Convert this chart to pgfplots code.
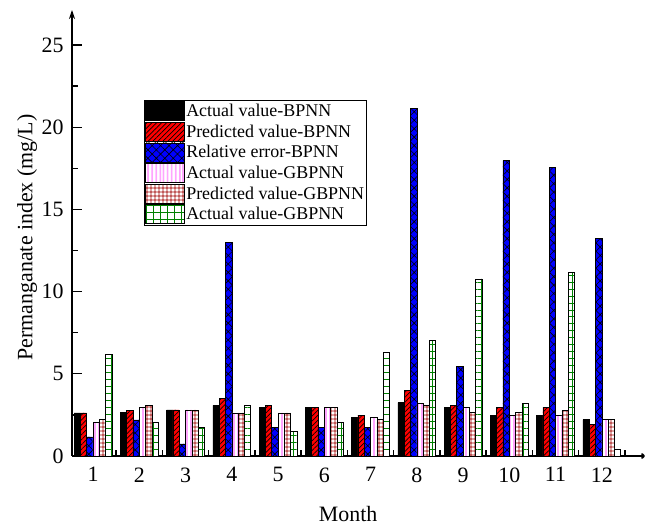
\documentclass[border=0pt]{standalone}
\usepackage{fontspec}
\setmainfont{Liberation Serif}
\usepackage{pgfplots}
\pgfplotsset{compat=1.18}
\usetikzlibrary{patterns.meta,arrows.meta}
\definecolor{cbrown}{RGB}{160,0,0}
\definecolor{cgreen}{RGB}{0,128,0}
\begin{document}
\begin{tikzpicture}
\begin{axis}[
  scale only axis,
  width=573bp, height=446bp,
  xmin=0.546, xmax=12.935,
  ymin=0, ymax=27.13,
  axis x line=bottom, axis y line=left,
  x axis line style={line width=2pt,-{To[length=4pt,width=6pt]}},
  y axis line style={line width=1.5pt,-{Stealth[length=9pt,width=6pt]}},
  ybar=0pt, bar width=6.3bp,
  xtick={1,...,12},
  minor xtick={1.5,2.5,...,12.5},
  ytick={0,5,...,25},
  minor ytick={2.5,7.5,...,22.5},
  major x tick style={draw=none},
  tick align=inside,
  major tick length=10bp, minor tick length=6bp,
  every tick/.style={black, line width=1.3pt},
  /pgf/number format/assume math mode=true,
  tick label style={font=\fontsize{22}{26}\selectfont},
  xticklabel style={yshift=-8bp},
  yticklabel style={xshift=-5bp},
  label style={font=\fontsize{22}{26}\selectfont},
  xlabel={Month},
  ylabel={Permanganate index (mg/L)},
  ylabel style={at={(rel axis cs:-0.0785,0.49)}, anchor=center},
  xlabel style={at={(rel axis cs:0.482,-0.13)}, anchor=center},
  legend style={at={(rel axis cs:0.126,0.798)}, anchor=north west,
    draw=black, line width=0.6pt, font=\fontsize{18}{20}\selectfont,
    inner sep=1pt, row sep=1bp, cells={anchor=west},
    nodes={inner sep=1.2pt}},
  legend image code/.code={\draw[#1,line width=0.6pt] (0bp,-9.5bp) rectangle (39bp,9.5bp);},
  clip=false,
]
\addplot[draw=black, fill=black, line width=0.5pt] coordinates {
(1,2.63) (2,2.65) (3,2.80) (4,3.08) (5,2.94) (6,2.94) (7,2.37) (8,3.24) (9,2.94) (10,2.49) (11,2.49) (12,2.21)};
\addplot[draw=black, fill=red, line width=0.5pt, postaction={pattern={Lines[angle=45,distance=3.5pt,line width=0.7pt]}, pattern color=black}] coordinates {
(1,2.63) (2,2.78) (3,2.80) (4,3.50) (5,3.08) (6,2.94) (7,2.49) (8,4.00) (9,3.08) (10,2.94) (11,2.94) (12,1.93)};
\addplot[draw=black, fill=blue, line width=0.5pt, postaction={pattern={Hatch[angle=45,distance=6pt,line width=0.6pt]}, pattern color=black}] coordinates {
(1,1.17) (2,2.19) (3,0.73) (4,12.99) (5,1.76) (6,1.76) (7,1.76) (8,21.13) (9,5.45) (10,17.96) (11,17.54) (12,13.24)};
\addplot[draw=black, fill=white, line width=0.5pt, postaction={pattern={Lines[angle=90,distance=4pt,line width=0.8pt]}, pattern color=magenta}] coordinates {
(1,2.03) (2,2.94) (3,2.80) (4,2.63) (5,2.63) (6,2.94) (7,2.35) (8,3.22) (9,2.94) (10,2.47) (11,2.47) (12,2.21)};
\addplot[draw=black, fill=white, line width=0.5pt, postaction={pattern={Hatch[angle=0,distance=4pt,line width=0.6pt]}, pattern color=cbrown}] coordinates {
(1,2.23) (2,3.08) (3,2.80) (4,2.63) (5,2.63) (6,2.94) (7,2.21) (8,3.08) (9,2.65) (10,2.65) (11,2.78) (12,2.21)};
\addplot[draw=black, fill=white, line width=0.5pt, postaction={pattern={Hatch[angle=0,distance=7pt,line width=0.6pt]}, pattern color=cgreen}] coordinates {
(1,6.20) (2,2.05) (3,1.76) (4,3.08) (5,1.48) (6,2.05) (7,6.31) (8,7.04) (9,10.77) (10,3.22) (11,11.17) (12,0.43)};
\legend{Actual value-BPNN, Predicted value-BPNN, Relative error-BPNN, Actual value-GBPNN, Predicted value-GBPNN, Actual value-GBPNN}
\coordinate (bbl) at (rel axis cs:-0.12565,-0.157);
\coordinate (btr) at (rel axis cs:1,1.0224);
\end{axis}
\pgfresetboundingbox
\path[use as bounding box] (bbl) rectangle (btr);
\end{tikzpicture}
\end{document}
